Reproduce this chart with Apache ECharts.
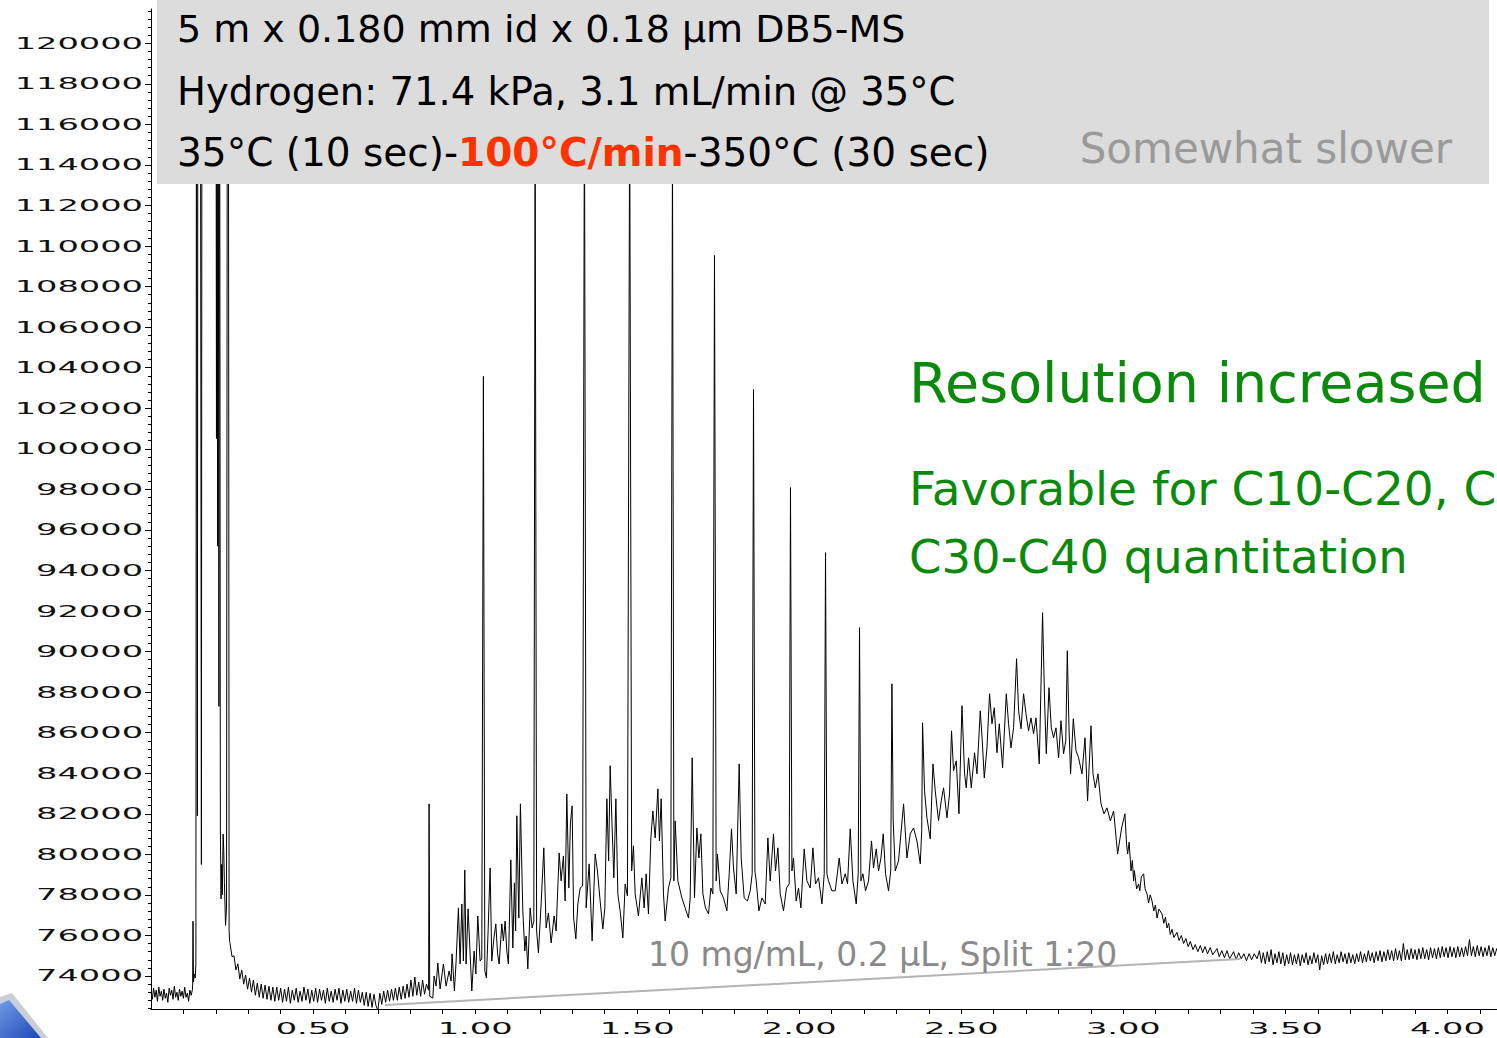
<!DOCTYPE html>
<html>
<head>
<meta charset="utf-8">
<script src="https://cdn.jsdelivr.net/npm/echarts@6/dist/echarts.min.js"></script>
<style>
html,body{margin:0;padding:0;background:#fff;}
#c{width:1497px;height:1038px;}
</style>
</head>
<body>
<div id="c"></div>
<script>
// ---- tick labels ----
const yTickLabels = [74000,76000,78000,80000,82000,84000,86000,88000,90000,92000,94000,96000,98000,100000,102000,104000,106000,108000,110000,112000,114000,116000,118000,120000];
const xTickLabels = [0.5,1.0,1.5,2.0,2.5,3.0,3.5,4.0];

// ---- signal (time in min, abundance) ----
// baseline before injection, sampled every 0.004 min from 0
const baselineStart = [73200,72850,73400,72950,73300,72750,73450,73000,73250,72800,73350,72900,73150,72700,73400,73050,73300,72850,73500,72950,73200,72800,73350,73000,73250,72900,73450,72950,73150,72750,73300,73050,73350];

// solvent region (off-scale peaks)
const solventPeaks = [[0.1285,73600],[0.1296,76700],[0.1310,73700],[0.1335,74100],[0.1365,73900],[0.1385,74600],[0.1405,130000],[0.1430,81900],[0.1450,130000],[0.1520,130000],[0.1555,79500],[0.1575,130000],[0.2000,130000],[0.2020,100500],[0.2035,130000],[0.2055,95200],[0.2070,130000],[0.2095,87300],[0.2115,130000],[0.2140,81400],[0.2160,77800],[0.2180,79500],[0.2200,78000],[0.2225,81000],[0.2245,80200],[0.2265,78600],[0.2300,76500],[0.2330,77400],[0.2360,130000],[0.2385,130000],[0.2410,76300],[0.2425,75700]];

// solvent tail and quiet baseline, sampled every 0.006 min from 0.244
const earlyBaseline = [75600,74950,75000,74300,74600,73850,74300,73600,74050,73350,
73900,73200,73800,73050,73650,72950,73600,72900,73550,72850,
73500,72800,73450,72750,73450,72800,73400,72700,73350,72750,
73450,72650,73300,72800,73400,72700,73250,72750,73450,72800,
73350,72650,73300,72750,73400,72700,73350,72800,73300,72650,
73400,72750,73250,72700,73350,72800,73400,72650,73300,72750,
73350,72700,73250,72750,73400,72650,73300,72700,73200,72550,
73200,72500,73150,72450,73100,72550,72300,73150,72600,73250,
72700,73300,72750,73350,72800,73400,72800,73450,72850,73500,
72900,73600,72950,73800,73000,73950,73050,73700,73000,73800,
73100,73600];

// resolved n-alkane peaks region
const resolvedPeaks = [[0.852,73500],[0.8565,73300],[0.858,82490],[0.860,73000],[0.8694,72910],[0.8735,74000],[0.8796,73500],[0.8848,74640],[0.892,73360],[0.9022,74590],[0.9105,73500],[0.9198,74250],[0.926,73750],[0.929,75090],[0.9361,73260],[0.9414,74740],[0.9485,77360],[0.9537,74590],[0.959,77550],[0.964,74740],[0.9682,79230],[0.9722,74590],[0.9784,77310],[0.9898,73260],[0.9969,75230],[1.0022,74100],[1.0083,76960],[1.0154,74740],[1.0207,74840],[1.0256,103570],[1.030,74250],[1.0349,73900],[1.0401,76220],[1.0463,79330],[1.0515,74740],[1.0571,75730],[1.0639,76570],[1.0694,75090],[1.0741,74590],[1.0824,76570],[1.0873,75730],[1.0926,76710],[1.0978,75230],[1.1028,74590],[1.1102,79730],[1.1164,75380],[1.1213,78590],[1.125,76220],[1.1287,81900],[1.1349,76860],[1.1398,82490],[1.1472,77210],[1.1534,75230],[1.1574,75970],[1.1627,74350],[1.1698,77360],[1.1759,76370],[1.1812,76710],[1.1852,116000],[1.1898,76220],[1.1954,75140],[1.2037,77550],[1.212,80320],[1.2191,76370],[1.2262,77110],[1.2346,75630],[1.2438,76960],[1.25,76220],[1.2593,80070],[1.2654,78690],[1.2725,79920],[1.2778,77700],[1.283,82980],[1.2892,78340],[1.2941,81550],[1.2994,82390],[1.304,76860],[1.3108,75830],[1.317,77550],[1.3241,78340],[1.3318,78440],[1.3373,118000],[1.3426,77360],[1.3519,79530],[1.3611,75730],[1.3704,80020],[1.3775,79180],[1.3858,77700],[1.3941,76320],[1.4003,77360],[1.4065,82740],[1.412,79680],[1.4167,84370],[1.4228,81300],[1.4281,78840],[1.4343,82740],[1.4404,78050],[1.4475,77210],[1.4559,75880],[1.463,78540],[1.470,77950],[1.4769,117000],[1.483,79180],[1.4886,80420],[1.4938,78050],[1.504,76960],[1.5145,78840],[1.5216,77360],[1.5278,79040],[1.5349,77060],[1.5423,80810],[1.5485,82140],[1.5556,80810],[1.5639,83230],[1.5688,80660],[1.5741,82740],[1.5812,78050],[1.5864,76710],[1.5966,78340],[1.604,78840],[1.609,115000],[1.6133,78690],[1.6173,81650],[1.6256,78690],[1.638,77850],[1.6481,77360],[1.6583,76860],[1.6636,77850],[1.6698,84760],[1.6769,77850],[1.6843,81300],[1.6904,79820],[1.6966,81010],[1.7028,78050],[1.7108,77360],[1.7201,77060],[1.7275,78340],[1.7336,78050],[1.7386,109540],[1.7438,78690],[1.7478,80020],[1.7562,78200],[1.7664,77850],[1.7769,77210],[1.784,79040],[1.7911,81260],[1.7972,79330],[1.8056,78050],[1.8148,84460],[1.821,79820],[1.8302,77850],[1.8404,77700],[1.8488,78200],[1.8549,79040],[1.859,102930],[1.8633,79180],[1.8673,78690],[1.8756,77210],[1.8849,77850],[1.8951,77550],[1.9034,80810],[1.9105,78690],[1.9207,81010],[1.9269,79180],[1.9343,80320],[1.9414,78050],[1.9515,77210],[1.9608,78340],[1.9691,78540],[1.9731,98090],[1.9775,79180],[1.9824,79820],[1.9907,77700],[1.9978,78340],[2.0052,77360],[2.0154,80270],[2.0238,78690],[2.034,78340],[2.0423,80320],[2.0503,78540],[2.0596,78840],[2.0701,77550],[2.0772,79040],[2.0812,94880],[2.0855,79040],[2.0904,78690],[2.1009,78200],[2.1111,78200],[2.1235,79820],[2.1318,78540],[2.142,79040],[2.1491,78540],[2.1574,81260],[2.1657,78690],[2.1759,77550],[2.1821,79040],[2.1861,91180],[2.1904,78690],[2.1966,79040],[2.2046,78200],[2.2139,78690],[2.2231,80660],[2.2293,79330],[2.2377,80270],[2.2448,79180],[2.2522,79820],[2.2593,81010],[2.2664,79040],[2.2756,78200],[2.2824,79180],[2.2861,88410],[2.290,81650],[2.2963,79180]];

// unresolved complex mixture hump
const humpRegion = [[2.3065,79680],[2.322,82490],[2.3324,79820],[2.3426,81010],[2.3528,81300],[2.3633,80660],[2.3735,79530],[2.378,81160],[2.3806,86490],[2.3867,83130],[2.3941,81800],[2.4043,80760],[2.4127,84460],[2.4198,83130],[2.4299,81650],[2.4383,82640],[2.4454,83280],[2.4559,81800],[2.4639,82980],[2.470,86090],[2.4762,84120],[2.4846,84610],[2.4929,82000],[2.5022,87330],[2.5102,83970],[2.5154,83280],[2.5225,84760],[2.5309,83280],[2.541,85010],[2.5485,83970],[2.5586,87080],[2.5648,85600],[2.571,83770],[2.5793,85250],[2.5873,87920],[2.5948,86440],[2.6019,87230],[2.6102,85010],[2.6173,86440],[2.6275,84270],[2.6389,87920],[2.646,86440],[2.6534,85250],[2.6614,86240],[2.6707,89650],[2.6769,87080],[2.6843,86190],[2.6923,87920],[2.6997,86930],[2.7077,86090],[2.7151,86730],[2.7231,85950],[2.7306,86730],[2.7407,84460],[2.7509,91920],[2.7571,87570],[2.7623,84960],[2.7707,88220],[2.7778,86240],[2.7849,85750],[2.7923,86240],[2.8003,84760],[2.8077,86590],[2.8157,84960],[2.8225,85600],[2.8272,90040],[2.8324,86240],[2.8373,83970],[2.8457,86690],[2.854,85110],[2.862,84760],[2.8725,83970],[2.8818,85750],[2.8898,82640],[2.9003,86340],[2.9065,83970],[2.9136,83280],[2.9219,83970],[2.9312,82490],[2.9404,82000],[2.9497,82290],[2.9599,81650],[2.9701,82140],[2.9824,80020],[2.9948,81300]];

// column bleed decay
const decayRegion = [[3.005,82000],[3.010,80500],[3.0133,80020],[3.018,80600],[3.0238,79180],[3.028,79700],[3.0318,78690],[3.034,79200],[3.037,78840],[3.041,78300],[3.0472,78540],[3.051,78200],[3.0556,78900],[3.0627,79040],[3.067,78300],[3.0731,78050],[3.078,77600],[3.083,78000],[3.0886,77700],[3.094,77200],[3.099,77500],[3.104,76860],[3.110,77300],[3.1194,77060],[3.125,76600],[3.130,76900],[3.1349,76370],[3.140,76600],[3.145,76050],[3.1503,76300],[3.156,75900],[3.1657,76150],[3.172,75750],[3.179,76000],[3.1861,75600],[3.193,75850],[3.200,75450],[3.2068,75700],[3.215,75300],[3.222,75550],[3.230,75200],[3.2377,75500],[3.245,75150],[3.252,75450],[3.260,75100],[3.268,75400],[3.276,75050],[3.2892,75350],[3.296,74950],[3.304,75250],[3.312,74900],[3.320,75250],[3.328,74850],[3.3404,75200],[3.348,74800],[3.356,75150],[3.364,74850],[3.372,75100],[3.380,74750],[3.388,75100],[3.396,74800],[3.404,75100],[3.4127,74850]];

// late baseline, sampled every 0.006 min from 3.42
const tailBaseline = [75250,74650,75150,74600,75200,74700,75300,74550,75100,74650,
75200,74600,75150,74500,75050,74600,75150,74550,75050,74600,
75100,74500,75050,74650,75150,74550,75000,74600,75150,74650,
75050,74300,75000,74550,75100,74600,75100,74650,75200,74600,
75050,74650,75200,74700,75100,74600,75150,74650,75050,74600,
75100,74700,75200,74650,75100,74700,75250,74750,75150,74650,
75200,74750,75250,74700,75200,74750,75300,74800,75250,74750,
75350,74800,75250,74750,75600,74800,75300,74800,75350,74850,
75300,74800,75350,74850,75400,74850,75300,74800,75400,74900,
75350,74850,75400,74900,75450,74950,75400,74900,75450,74950,
75400,74900,75450,74950,75400,74950,75450,75000,75800,75000,
75450,74950,75500,75000,75450,74950,75400,75000,75500,74950,
75400,75000,75350,75050];

// reference line (baseline guide)
const guideLine = [[0.722,72570],[3.361,74840]];

function sampled(start, step, vals) {
  return vals.map(function (v, i) { return [+(start + i * step).toFixed(4), v]; });
}
const signal = [].concat(
  sampled(0, 0.004, baselineStart),
  solventPeaks,
  sampled(0.244, 0.006, earlyBaseline),
  resolvedPeaks,
  humpRegion,
  decayRegion,
  sampled(3.42, 0.006, tailBaseline)
);

// tick positions
const xTickPositions = [];
for (let i = 1; i <= 41; i++) xTickPositions.push(+(i / 10).toFixed(1));
const yMinorTicks = [];
for (let v = 72400; v <= 121600; v += 400) yMinorTicks.push(v);

const chart = echarts.init(document.getElementById('c'), null, {renderer: 'svg'});
const axisFont = 'DejaVu Sans, axislbl';
chart.setOption({
  animation: false,
  backgroundColor: '#ffffff',
  grid: {left: 151, right: 0, top: 9, bottom: 29},
  xAxis: {
    type: 'value', min: 0, max: 4.153,
    axisLine: {show: true, lineStyle: {color: '#000', width: 1}},
    axisTick: {show: true, customValues: xTickPositions, length: 5, lineStyle: {color: '#000'}},
    axisLabel: {customValues: xTickLabels, formatter: function (v) { return v.toFixed(2); },
      color: '#111', fontFamily: axisFont, fontSize: 16, margin: 11},
    splitLine: {show: false}
  },
  yAxis: [{
    type: 'value', min: 72372, max: 121692,
    axisLine: {show: true, lineStyle: {color: '#000', width: 1}},
    axisTick: {show: true, customValues: yTickLabels, length: 6, lineStyle: {color: '#000'}},
    axisLabel: {customValues: yTickLabels, formatter: function (v) { return String(v); },
      color: '#111', fontFamily: axisFont, fontSize: 16, margin: 8},
    splitLine: {show: false}
  }, {
    type: 'value', min: 72372, max: 121692, position: 'left',
    axisLine: {show: false},
    axisTick: {show: true, customValues: yMinorTicks, length: 3, lineStyle: {color: '#000'}},
    axisLabel: {show: false},
    splitLine: {show: false}
  }],
  series: [{
    type: 'line',
    data: signal,
    showSymbol: false,
    symbol: 'none',
    sampling: null,
    clip: true,
    lineStyle: {color: '#000', width: 1},
    z: 2,
    markLine: {
      silent: true, symbol: 'none', animation: false,
      label: {show: false},
      lineStyle: {color: '#b4b4b4', width: 2, type: 'solid'},
      data: [[{coord: guideLine[0]}, {coord: guideLine[1]}]]
    }
  }],
  graphic: [
    {type: 'rect', z: 100, shape: {x: 157, y: 0, width: 1332, height: 184}, style: {fill: '#dcdcdc'}},
    {type: 'text', z: 101, x: 177, y: 29, style: {text: '5 m x 0.180 mm id x 0.18 µm DB5-MS', font: '38px DejaVu Sans', fill: '#000', verticalAlign: 'middle'}},
    {type: 'text', z: 101, x: 177, y: 91, style: {text: 'Hydrogen: 71.4 kPa, 3.1 mL/min @ 35°C', font: '38.5px DejaVu Sans', fill: '#000', verticalAlign: 'middle'}},
    {type: 'text', z: 101, x: 177, y: 152, style: {
      text: '{a|35°C (10 sec)-}{b|100°C/min}{a|-350°C (30 sec)}',
      verticalAlign: 'middle',
      rich: {
        a: {fontFamily: 'DejaVu Sans', fontSize: 39, fill: '#000'},
        b: {fontFamily: 'DejaVu Sans', fontSize: 39, fontWeight: 'bold', fill: '#ff3300'}
      }}},
    {type: 'text', z: 101, x: 1452, y: 148, style: {text: 'Somewhat slower', font: '42px DejaVu Sans', fill: '#9a9a9a', align: 'right', verticalAlign: 'middle'}},
    {type: 'text', z: 101, x: 909, y: 382, style: {text: 'Resolution increased', font: '55.5px DejaVu Sans', fill: '#0a8a0a', verticalAlign: 'middle'}},
    {type: 'text', z: 101, x: 909, y: 488, style: {text: 'Favorable for C10-C20, C', font: '47px DejaVu Sans', fill: '#0a8a0a', verticalAlign: 'middle'}},
    {type: 'text', z: 101, x: 909, y: 557, style: {text: 'C30-C40 quantitation', font: '46.5px DejaVu Sans', fill: '#0a8a0a', verticalAlign: 'middle'}},
    {type: 'text', z: 101, x: 648, y: 954, style: {text: '10 mg/mL, 0.2 µL, Split 1:20', font: '33px DejaVu Sans', fill: '#8a8a8a', verticalAlign: 'middle'}},
    {type: 'polygon', z: 101, shape: {points: [[0, 997], [12, 993], [48, 1038], [0, 1038]]}, style: {fill: '#c9ced8'}},
    {type: 'polygon', z: 102, shape: {points: [[0, 1004], [9, 1000], [41, 1038], [0, 1038]]}, style: {
      fill: new echarts.graphic.LinearGradient(0, 0, 1, 1, [{offset: 0, color: '#6f9be6'}, {offset: 1, color: '#1d47b5'}])}}
  ]
});

// widen the axis label glyphs (the original uses a very wide typeface)
function widenAxisLabels() {
  document.querySelectorAll('#c text').forEach(function (t) {
    const s = t.getAttribute('style') || '';
    if (s.indexOf('axislbl') >= 0 && !t.hasAttribute('textLength')) {
      const w = t.getComputedTextLength();
      if (w > 0) {
        t.setAttribute('textLength', (w * 2.1).toFixed(1));
        t.setAttribute('lengthAdjust', 'spacingAndGlyphs');
      }
    }
  });
}
chart.on('finished', widenAxisLabels);
setTimeout(widenAxisLabels, 50);
setTimeout(widenAxisLabels, 300);
</script>
</body>
</html>
